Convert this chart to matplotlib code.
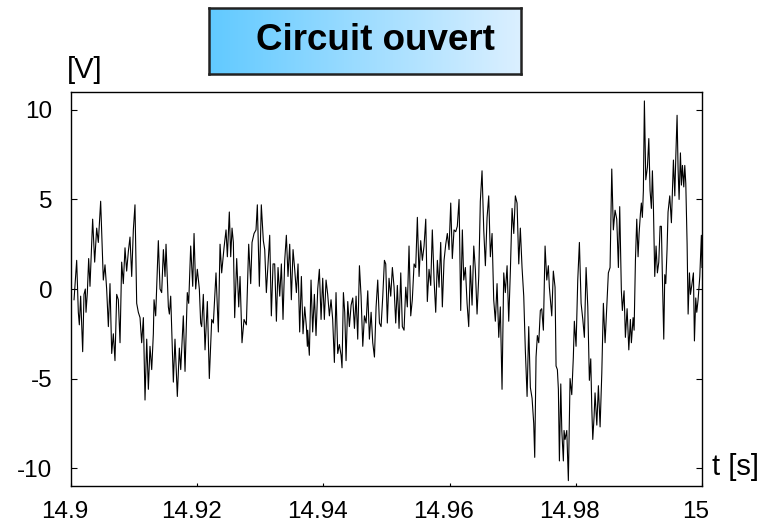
import numpy as np
import matplotlib
matplotlib.use("Agg")
import matplotlib.pyplot as plt
import matplotlib.transforms as mtransforms
from matplotlib.colors import LinearSegmentedColormap

plt.rcParams['font.family'] = ['Liberation Sans', 'DejaVu Sans']

# time in milliseconds after 14.9 s
t_ms = [0.48, 0.90, 1.16, 1.32, 1.53, 1.85, 2.06, 2.27, 2.38, 2.59, 2.80, 3.01, 3.17, 3.43, 3.75,
        4.07, 4.33, 4.70, 5.12, 5.39, 5.65, 5.92, 6.18, 6.45, 6.71, 6.97, 7.24, 7.50, 7.77, 8.03,
        8.29, 8.56, 8.82, 9.09, 9.35, 9.62, 9.88, 10.14, 10.41, 10.67, 10.94, 11.20, 11.47, 11.73,
        12.00, 12.26, 12.52, 12.79, 13.05,
        13.16, 13.42, 13.84, 14.11, 14.37, 14.64, 14.90, 15.06, 15.43, 15.59, 15.80, 16.22, 16.48,
        16.85, 17.17, 17.39, 17.80, 18.07, 18.43, 18.65, 18.97, 19.29, 19.50, 19.76, 20.02, 20.34,
        20.55, 20.71, 20.97, 21.24, 21.61, 21.92, 22.30, 22.56, 22.98, 23.35, 23.62, 23.88, 24.25,
        24.57, 24.78, 25.09,
        25.31, 25.52, 25.73, 25.94, 26.26, 26.58, 26.79, 27.10, 27.42, 27.79, 28.16, 28.48, 28.69,
        29.01, 29.32, 29.53, 29.85, 30.16, 30.48, 30.70, 30.96, 31.22, 31.49, 31.75, 32.02, 32.28,
        32.55, 32.81, 33.08, 33.34, 33.60, 33.87, 34.13, 34.39, 34.66, 34.92, 35.19, 35.45, 35.72,
        35.98, 36.24, 36.51, 36.77, 37.04, 37.30, 37.46,
        37.51, 37.77, 38.04, 38.30, 38.57, 38.83, 39.10, 39.36, 39.63, 39.89, 40.15, 40.42, 40.68,
        40.95, 41.21, 41.47, 41.74, 42.00, 42.27, 42.53, 42.80, 42.95, 43.17, 43.38, 43.59, 43.86,
        44.12, 44.39, 44.65, 44.92, 45.18, 45.44, 45.71, 45.97, 46.24, 46.50, 46.77, 47.03, 47.29,
        47.56, 47.82, 48.09, 48.35, 48.61, 48.88, 49.14, 49.41, 49.67,
        49.88, 50.13, 50.40, 50.67, 50.93, 51.20, 51.46, 51.72, 51.99, 52.26, 52.51, 52.78, 53.05,
        53.30, 53.57, 53.84, 54.09, 54.37, 54.63, 54.89, 55.16, 55.42, 55.68, 55.95, 56.22, 56.47,
        56.74, 57.01, 57.26, 57.54, 57.80, 58.06, 58.33, 58.59, 58.85, 59.12, 59.39, 59.64, 59.91,
        60.18, 60.43, 60.70, 60.97, 61.22, 61.50, 61.76, 62.02,
        62.24, 62.50, 62.77, 63.03, 63.29, 63.56, 63.83, 64.08, 64.35, 64.62, 64.87, 65.14, 65.41,
        65.67, 65.94, 66.20, 66.46, 66.73, 66.99, 67.25, 67.52, 67.79, 68.04, 68.31, 68.58, 68.83,
        69.11, 69.37, 69.63, 69.90, 70.17, 70.42, 70.69, 70.96, 71.21, 71.48, 71.75, 72.00, 72.28,
        72.54, 72.80, 73.07, 73.33, 73.49, 73.70, 73.91, 74.13, 74.38,
        74.60, 74.86, 75.13, 75.40, 75.65, 75.81, 76.19, 76.44, 76.71, 76.87, 77.08, 77.24, 77.40,
        77.62, 77.78, 78.03, 78.14, 78.30, 78.57, 78.82, 79.09, 79.36, 79.61, 79.77, 80.04, 80.31,
        80.57, 80.84, 81.11, 81.36, 81.63, 81.90, 82.15, 82.37, 82.53, 82.69, 82.90, 83.05, 83.33,
        83.58, 83.85, 84.12, 84.37, 84.64, 84.91, 85.16, 85.43, 85.70, 85.95, 86.22, 86.49, 86.75,
        86.96, 87.22, 87.38, 87.65, 87.86, 88.13, 88.40, 88.65, 88.81, 89.08, 89.24, 89.45, 89.66,
        89.87, 90.03, 90.24, 90.39, 90.55, 90.71, 90.87, 91.09, 91.35, 91.57, 91.77, 91.98, 92.14,
        92.30, 92.51, 92.72, 92.93, 93.15, 93.36, 93.56, 93.72, 93.94, 94.10, 94.26, 94.46, 94.62,
        94.89, 95.15, 95.31, 95.47, 95.69, 95.85, 96.05, 96.21, 96.37, 96.58, 96.74, 96.90, 97.11,
        97.27, 97.43, 97.64, 97.80, 98.01, 98.17, 98.38, 98.64, 98.80, 99.01, 99.17, 99.38, 99.65,
        99.90, 100.0]

volts = [-0.6, 1.6, -1.3, -2.0, -0.4, -3.5, -0.3, 0.0, -1.3, -0.2, 1.7, 0.15, 1.6, 3.9, 1.5,
         3.4, 2.6, 4.9, 0.5, 1.35, 0.0, -2.1, 0.3, -3.6, -2.5, -4.0, -0.3, -0.6, -3.0, 1.5,
         0.3, 2.3, 1.0, 2.1, 2.9, 0.7, 3.3, 4.7, -0.8, -1.3, -1.6, -3.0, -1.6, -6.2,
         -2.8, -5.6, -3.2, -4.5, -2.5,
         -0.6, -1.5, 2.7, 0.0, -0.2, 2.2, 0.7, 2.5, -1.0, -1.4, -0.4, -5.2, -2.8,
         -6.0, -3.3, -4.5, -1.5, -4.6, -0.2, -0.8, 2.4, 0.15, 3.1, 0.0, 1.1, 0.0,
         -1.9, -2.1, -0.3, -3.4, -0.7, -5.0, -1.7, -1.9, 0.9, -2.4, 2.5, 0.9, 2.3,
         3.3, 1.8, 4.3,
         1.8, 3.4, 2.6, -1.6, 1.7, -1.0, 0.7, -3.0, -1.7, -2.0, 2.5, 0.3, 2.6,
         3.1, 3.3, 4.7, 0.15, 4.7, 2.7, 2.2, -0.2, 1.4, 3.0, -1.5, 1.4, 1.4,
         -1.8, 1.2, -0.4, 1.4, -1.7, 1.6, 3.0, 0.7, 2.5, -0.6, 2.2, 1.1, -0.2,
         1.4, -2.4, 0.7, -2.5, -1.0, -2.1, -3.2,
         -2.3, -3.7, 0.5, -2.4, -0.3, -2.6, 0.0, 1.1, -1.7, 0.6, -1.7, 0.5, -0.3,
         -1.5, -0.6, -1.7, -4.1, -0.2, -3.6, -3.1, -3.7, -4.4, -0.2, -1.3, -4.0, -0.7,
         -2.1, -0.9, -0.5, -2.2, -0.4, -2.8, 1.3, -0.4, -3.2, -1.5, -1.9, -0.1, -2.8,
         -1.3, -3.0, -3.8, -1.0, 0.5, -1.9, -2.1, -0.4, 1.6,
         1.4, -1.9, 0.6, -0.4, 1.2, 0.1, -1.9, 0.2, -2.2, 0.9, -2.1, -2.3, 0.1,
         -1.0, 2.4, -1.5, -0.6, 1.4, 1.2, 4.0, 0.7, 2.7, 1.6, 2.4, 3.9, -0.7,
         1.1, 0.2, 3.3, 0.5, -1.3, 1.6, 0.1, 2.6, -1.0, 1.6, 2.5, 3.1, 2.2,
         4.8, 1.7, 3.3, 3.2, 3.5, 5.0, -1.2, 3.3,
         0.5, 1.2, -0.8, -2.1, 1.3, -0.9, 2.4, 1.1, -1.4, 0.7, 4.9, 6.6, 3.3,
         1.3, 4.0, 5.2, 1.8, 3.1, -0.6, -1.8, 0.3, -2.7, -1.0, -5.6, 0.9, -0.2,
         1.3, -1.8, 1.0, 4.5, 3.1, 5.2, 4.8, 1.4, 3.4, 1.2, -0.4, -3.4, -6.0,
         -2.1, -5.5, -6.1, -7.5, -9.4, -3.8, -2.6, -3.0, -1.2,
         -1.1, -2.3, 2.4, 0.5, 1.3, 0.1, -1.5, 1.0, 0.1, -4.3, -4.5, -5.6, -9.6,
         -5.3, -7.9, -9.6, -7.9, -8.4, -7.9, -10.7, -5.0, -5.9, -3.8, -1.8, -3.2, 0.5,
         2.6, -0.8, -1.7, -2.7, 1.2, -1.0, -5.1, -3.9, -6.6, -8.4, -7.1, -5.8, -7.6,
         -5.4, -7.7, -4.7, -0.8, -3.0, -1.0, 0.9, 1.2, 6.7, 3.3, 4.4, 3.9, 1.2,
         4.6, -0.1, -1.2, -0.1, -2.7, -1.1, -3.4, -1.7, -3.0, -1.6, -2.3, 1.6, 3.9,
         1.8, 3.1, 4.2, 4.8, 4.0, 5.5, 10.5, 6.1, 6.8, 8.4, 5.5, 4.5, 6.6,
         4.6, 0.7, 2.4, 0.9, 1.5, 3.5, 3.5, 0.7, -2.8, 0.8, 0.3, 2.2, 4.3,
         5.2, 3.7, 5.5, 7.2, 5.2, 7.4, 9.7, 6.7, 5.0, 7.6, 5.8, 6.9, 5.7,
         6.9, 5.9, 2.5, -1.4, 0.9, -0.3, 0.2, 0.9, -2.9, -0.5, -1.3, -0.6, 0.7,
         3.0, 1.2]

x_ticks = [14.9, 14.92, 14.94, 14.96, 14.98, 15.0]
x_labels = ["14.9", "14.92", "14.94", "14.96", "14.98", "15"]
y_ticks = [-10, -5, 0, 5, 10]
y_labels = ["-10", "-5", "0", "5", "10"]
title_text = "Circuit ouvert"

t = 14.9 + np.array(t_ms) / 1000.0

W, H = 764, 526
fig = plt.figure(figsize=(W / 100, H / 100), dpi=100)
ax = fig.add_axes([71 / W, 1 - 486 / H, (702 - 71) / W, (486 - 92) / H])
ax.plot(t, volts, color='black', linewidth=0.8)
ax.set_xlim(14.9, 15.0)
ax.set_ylim(-11, 11)
ax.set_xticks(x_ticks)
ax.set_xticklabels(x_labels)
ax.set_yticks(y_ticks)
ax.set_yticklabels(y_labels)
ax.tick_params(axis='y', direction='in', length=4, width=0.8, left=True, right=True,
               labelsize=17.5, pad=13.5)
ax.tick_params(axis='x', direction='in', length=2, width=0.8, labelsize=17.5, pad=10.5)
for s in ax.spines.values():
    s.set_linewidth(1.0)

# x tick labels in the reference sit slightly left of their ticks
shift = mtransforms.ScaledTranslation(-6 / 100, 0, fig.dpi_scale_trans)
for lab in ax.get_xticklabels():
    lab.set_transform(lab.get_transform() + shift)

fig.text(85 / W, 1 - 70 / H, "[V]", fontsize=21, ha='center', va='center')
fig.text(712 / W, 1 - 467 / H, "t [s]", fontsize=21, ha='left', va='center')

# title box with horizontal gradient
bx0, bx1, by0, by1 = 209, 521, 8, 74
tax = fig.add_axes([bx0 / W, 1 - by1 / H, (bx1 - bx0) / W, (by1 - by0) / H])
cmap = LinearSegmentedColormap.from_list('g', [(0.38, 0.79, 1.0), (0.86, 0.94, 1.0)])
tax.imshow(np.linspace(0, 1, 256)[None, :], aspect='auto', cmap=cmap, extent=[0, 1, 0, 1])
tax.set_xlim(0, 1)
tax.set_ylim(0, 1)
tax.set_xticks([])
tax.set_yticks([])
for s in tax.spines.values():
    s.set_linewidth(1.8)
    s.set_color('#222222')
tax.text(0.535, 0.5, title_text, fontsize=26.5, fontweight='bold', ha='center', va='center',
         transform=tax.transAxes)

fig.savefig("out.png", dpi=100)
